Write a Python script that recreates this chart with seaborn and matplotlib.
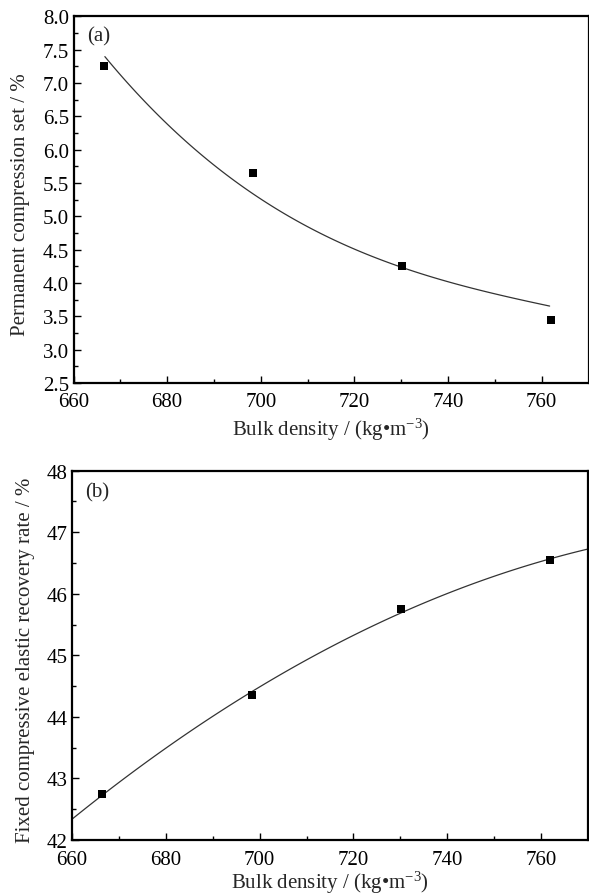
import numpy as np
import pandas as pd
import matplotlib
matplotlib.use("Agg")
import matplotlib.pyplot as plt
from matplotlib.ticker import MultipleLocator, FixedLocator
import seaborn as sns

# ---------------- data ----------------
bulk_density = [666.5, 698.3, 730.2, 762.0]
perm_set = [7.25, 5.65, 4.25, 3.45]                 # panel (a), %
recovery_rate = [42.75, 44.35, 45.75, 46.55]        # panel (b), %

# fitted curve of panel (a)
fit_a_x = [666.7, 672.0, 677.7, 684.8, 691.9, 699.0, 706.1, 711.0, 718.1,
           725.2, 730.0, 739.4, 746.5, 752.2, 761.7]
fit_a_y = [7.40, 6.96, 6.55, 6.07, 5.65, 5.31, 5.00, 4.81, 4.57,
           4.37, 4.24, 4.02, 3.89, 3.80, 3.66]

x_ticks = [660, 680, 700, 720, 740, 760]
y_ticks_a = [2.5, 3.0, 3.5, 4.0, 4.5, 5.0, 5.5, 6.0, 6.5, 7.0, 7.5, 8.0]
y_ticks_b = [42, 43, 44, 45, 46, 47, 48]

x_label = "Bulk density / (kg\u2022m$^{-3}$)"
y_label_a = "Permanent compression set / %"
y_label_b = "Fixed compressive elastic recovery rate / %"

# ---------------- style ----------------
sns.set_theme(style="ticks")
plt.rcParams["font.family"] = ["Liberation Serif", "DejaVu Serif"]
plt.rcParams["mathtext.fontset"] = "custom"
plt.rcParams["mathtext.rm"] = "Liberation Serif"
plt.rcParams["mathtext.it"] = "Liberation Serif:italic"
plt.rcParams["mathtext.bf"] = "Liberation Serif:bold"
plt.rcParams["mathtext.default"] = "regular"

fig = plt.figure(figsize=(5.89, 8.95), dpi=100)
W, H = 589.0, 895.0
ax_a = fig.add_axes([73.5 / W, 1 - 384 / H, 515 / W, (384 - 17.3) / H])
ax_b = fig.add_axes([72 / W, 1 - 841 / H, 516 / W, (841 - 471.7) / H])

TICK_FS = 15
LABEL_FS = 15

def style_axis(ax, xpad=6):
    for s in ax.spines.values():
        s.set_visible(True)
        s.set_linewidth(1.6)
        s.set_color("black")
    ax.tick_params(which="both", direction="in", top=False, right=False,
                   width=1.0, color="black", labelsize=TICK_FS, labelcolor="black")
    ax.tick_params(which="major", length=5)
    ax.tick_params(which="minor", length=2.6)
    ax.tick_params(axis="x", which="both", pad=xpad)
    ax.tick_params(axis="y", which="both", pad=3.2)
    ax.set_facecolor("white")

# ---------------- panel (a) ----------------
ax_a.set_xlim(660, 770)
ax_a.set_ylim(2.5, 8.0)
sns.regplot(x=fit_a_x, y=fit_a_y, ax=ax_a, order=3, ci=None, scatter=False,
            truncate=True, line_kws={"color": "#333333", "linewidth": 0.9})
sns.scatterplot(x=bulk_density, y=perm_set, ax=ax_a, marker="s", s=34,
                color="black", linewidth=0, zorder=3)
ax_a.set_xlim(660, 770)
ax_a.set_ylim(2.5, 8.0)
ax_a.xaxis.set_major_locator(FixedLocator(x_ticks))
ax_a.xaxis.set_minor_locator(MultipleLocator(10))
ax_a.yaxis.set_major_locator(FixedLocator(y_ticks_a))
ax_a.yaxis.set_minor_locator(MultipleLocator(0.25))
ax_a.set_yticklabels([f"{v:.1f}" for v in y_ticks_a])
ax_a.set_xticklabels([str(v) for v in x_ticks])
style_axis(ax_a, xpad=6.5)
ax_a.set_xlabel(x_label, fontsize=LABEL_FS)
ax_a.set_ylabel(y_label_a, fontsize=LABEL_FS)
ax_a.xaxis.set_label_coords(0.5, -0.09)
ax_a.yaxis.set_label_coords(-0.085, 0.49)
ax_a.text(0.026, 0.946, "(a)", transform=ax_a.transAxes, fontsize=LABEL_FS,
          ha="left", va="center")

# ---------------- panel (b) ----------------
ax_b.set_xlim(660, 770)
ax_b.set_ylim(42, 48)
sns.regplot(x=bulk_density, y=recovery_rate, ax=ax_b, order=2, ci=None,
            truncate=False, marker="s",
            scatter_kws={"s": 34, "color": "black", "linewidths": 0,
                         "alpha": 1, "zorder": 3},
            line_kws={"color": "#333333", "linewidth": 0.9, "zorder": 2})
ax_b.set_xlim(660, 770)
ax_b.set_ylim(42, 48)
ax_b.xaxis.set_major_locator(FixedLocator(x_ticks))
ax_b.xaxis.set_minor_locator(MultipleLocator(10))
ax_b.yaxis.set_major_locator(FixedLocator(y_ticks_b))
ax_b.yaxis.set_minor_locator(MultipleLocator(0.5))
ax_b.set_yticklabels([str(v) for v in y_ticks_b])
ax_b.set_xticklabels([str(v) for v in x_ticks])
style_axis(ax_b, xpad=7)
ax_b.set_xlabel(x_label, fontsize=LABEL_FS)
ax_b.set_ylabel(y_label_b, fontsize=LABEL_FS)
ax_b.xaxis.set_label_coords(0.5, -0.078)
ax_b.yaxis.set_label_coords(-0.072, 0.49)
ax_b.text(0.025, 0.943, "(b)", transform=ax_b.transAxes, fontsize=LABEL_FS,
          ha="left", va="center")

fig.savefig("out.png", dpi=100, facecolor="white")
